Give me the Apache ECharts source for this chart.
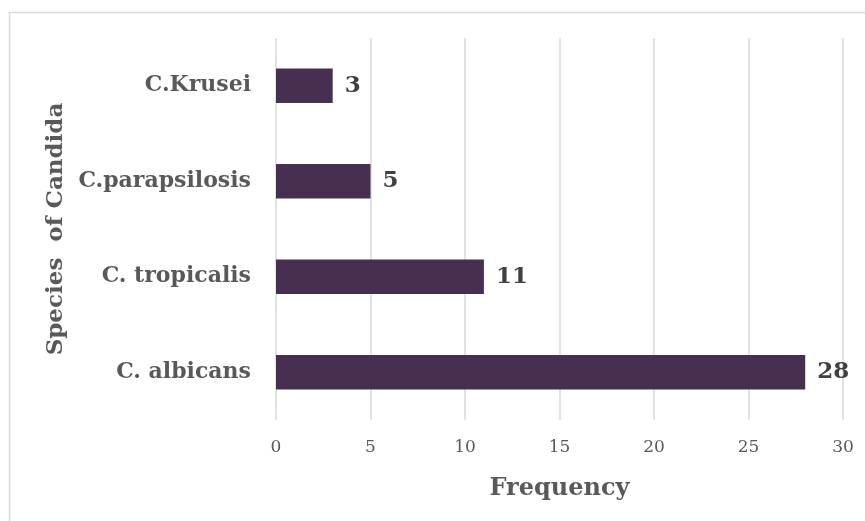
<!DOCTYPE html>
<html>
<head>
<meta charset="utf-8">
<script src="https://cdn.jsdelivr.net/npm/echarts@6/dist/echarts.min.js"></script>
<style>
  html, body { margin: 0; padding: 0; background: #fff; }
  #chart { width: 865px; height: 521px; }
</style>
</head>
<body>
<div id="chart"></div>
<script>
// Candida species counts
const species = ['C. albicans', 'C. tropicalis', 'C.parapsilosis', 'C.Krusei'];
const frequency = [28, 11, 5, 3];
const xTicks = [0, 5, 10, 15, 20, 25, 30];

const serif = '"DejaVu Serif", "Liberation Serif", serif';
const chart = echarts.init(document.getElementById('chart'), null, { renderer: 'canvas' });

chart.setOption({
  backgroundColor: '#ffffff',
  animation: false,
  graphic: [{
    type: 'rect',
    shape: { x: 9.5, y: 12.5, width: 900, height: 560 },
    style: { fill: 'none', stroke: '#d9d9d9', lineWidth: 1.5 },
    silent: true,
    z: -1
  }],
  grid: { left: 276, right: 22, top: 38, bottom: 101 },
  xAxis: {
    type: 'value',
    min: xTicks[0],
    max: xTicks[xTicks.length - 1],
    interval: 5,
    name: 'Frequency',
    nameLocation: 'middle',
    nameGap: 57,
    nameTextStyle: { fontFamily: serif, fontWeight: 'bold', fontSize: 24, color: '#595959' },
    axisLine: { show: false },
    axisTick: { show: false },
    axisLabel: { fontFamily: serif, fontSize: 17, color: '#595959', margin: 19 },
    splitLine: { show: true, lineStyle: { color: '#d9d9d9', width: 1.5 } }
  },
  yAxis: {
    type: 'category',
    data: species,
    name: 'Species  of Candida',
    nameLocation: 'middle',
    nameGap: 205,
    nameRotate: 90,
    nameTextStyle: { fontFamily: serif, fontWeight: 'bold', fontSize: 23, color: '#595959' },
    axisLine: { show: false },
    axisTick: { show: false },
    axisLabel: { fontFamily: serif, fontWeight: 'bold', fontSize: 22, color: '#595959', margin: 25 }
  },
  series: [{
    type: 'bar',
    data: frequency,
    barWidth: '36%',
    itemStyle: { color: '#472f52' },
    label: {
      show: true,
      position: 'right',
      distance: 12,
      fontFamily: serif,
      fontWeight: 'bold',
      fontSize: 23,
      color: '#404040'
    }
  }]
});
</script>
</body>
</html>
